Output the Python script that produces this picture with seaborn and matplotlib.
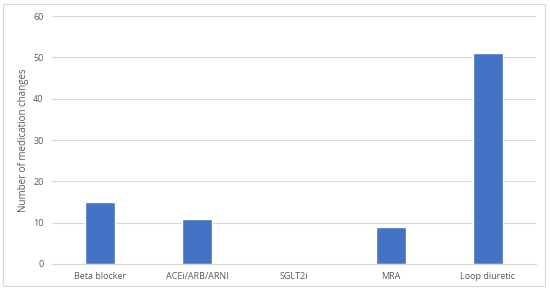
import matplotlib
matplotlib.use("Agg")
import matplotlib.pyplot as plt
import seaborn as sns
import pandas as pd
from matplotlib.patches import Rectangle

# Data
categories = ["Beta blocker", "ACEi/ARB/ARNI", "SGLT2i", "MRA", "Loop diuretic"]
changes = [15, 11, 0, 9, 51]
y_ticks = [0, 10, 20, 30, 40, 50, 60]

df = pd.DataFrame({"Medication": categories, "Changes": changes})

sns.set_theme(style="white")
plt.rcParams["font.family"] = ["Open Sans", "DejaVu Sans"]

fig = plt.figure(figsize=(5.5, 2.93), dpi=100)
ax = fig.add_axes([0.0945, 0.099, 0.88, 0.846])

sns.barplot(data=df, x="Medication", y="Changes", color="#4472C4",
            width=0.31, saturation=1, ax=ax)

ax.set_ylim(0, 60)
ax.set_xlim(-0.5, 4.5)
ax.set_yticks(y_ticks)
ax.yaxis.grid(True, color="#D9D9D9", linewidth=0.8)
ax.set_axisbelow(True)
for side in ["top", "right", "left"]:
    ax.spines[side].set_visible(False)
ax.spines["bottom"].set_color("#D9D9D9")
ax.spines["bottom"].set_linewidth(0.8)

ax.tick_params(axis="both", length=0, labelsize=6.5, labelcolor="#595959", pad=6)
ax.set_xlabel("")
ax.set_ylabel("Number of medication changes", fontsize=7, color="#595959", labelpad=3)

# light outer chart border
fig.patches.append(Rectangle((0.006, 0.025), 0.985, 0.96, transform=fig.transFigure,
                             fill=False, edgecolor="#D9D9D9", linewidth=0.8))

fig.savefig("out.png", dpi=100)
